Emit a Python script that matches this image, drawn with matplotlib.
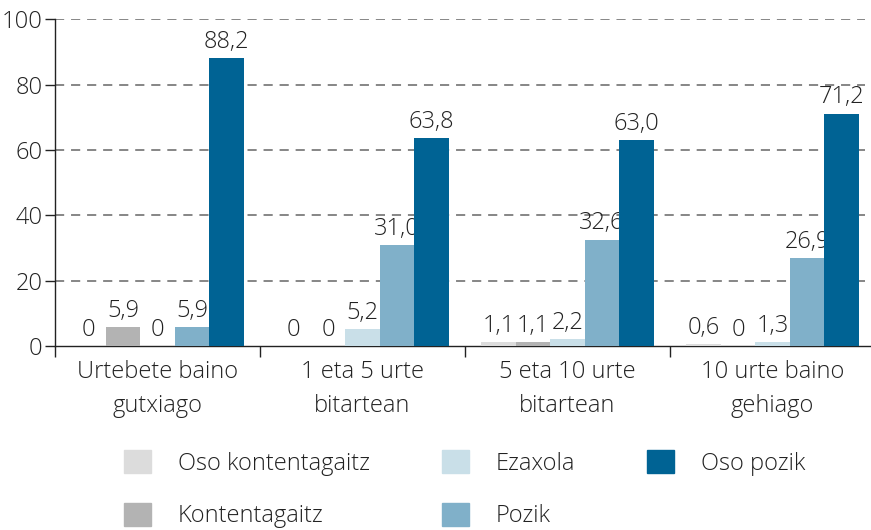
import matplotlib.pyplot as plt
import matplotlib.patches as mpatches
import numpy as np

plt.rcParams['font.family'] = ['Open Sans', 'DejaVu Sans']
plt.rcParams['font.weight'] = 'light'

groups = ["Urtebete baino\ngutxiago", "1 eta 5 urte\nbitartean",
          "5 eta 10 urte\nbitartean", "10 urte baino\ngehiago"]
series = ["Oso kontentagaitz", "Kontentagaitz", "Ezaxola", "Pozik", "Oso pozik"]
colors = ["#dcdcdc", "#b3b3b3", "#c9dfe8", "#80b0c9", "#006394"]
values = [
    [0, 0, 1.1, 0.6],      # Oso kontentagaitz
    [5.9, 0, 1.1, 0],      # Kontentagaitz
    [0, 5.2, 2.2, 1.3],    # Ezaxola
    [5.9, 31.0, 32.6, 26.9],  # Pozik
    [88.2, 63.8, 63.0, 71.2],  # Oso pozik
]
yticks = [0, 20, 40, 60, 80, 100]

txt = "#222222"
fs = 17

fig = plt.figure(figsize=(8.71, 5.30), dpi=100)
ax = fig.add_axes([55/871, (530-346)/530, 816/871, (346-19.5)/530])

w = 0.168
x = np.arange(len(groups))
for i, s in enumerate(series):
    pos = x + (i - 2) * w
    ax.bar(pos, values[i], width=w, color=colors[i], label=s, zorder=3)
    for p, v in zip(pos, values[i]):
        lab = "0" if v == 0 else ("%.1f" % v).replace(".", ",")
        # labels sit behind the bars, like in the original
        ax.annotate(lab, (p, v), xytext=(0, 3), textcoords="offset points",
                    ha="center", va="bottom", fontsize=fs, color=txt, zorder=2)

ax.set_xlim(-0.5, -0.5 + 816/205)
ax.set_ylim(0, 100)

for y in yticks[1:]:
    ax.axhline(y, xmin=0, xmax=810/816, color="#666666", lw=1.1,
               linestyle=(0, (6, 4.5)), zorder=1)

ax.set_yticks(yticks)
ax.set_yticklabels([str(t) for t in yticks])
ax.set_xticks(x)
ax.set_xticklabels(groups, linespacing=1.55)
ax.set_xticks(np.arange(len(groups)) - 0.5, minor=True)
ax.tick_params(axis="x", which="major", length=0, pad=10, labelsize=fs, labelcolor=txt)
ax.tick_params(axis="x", which="minor", length=8, width=1, color="#222222", direction="out")
ax.tick_params(axis="y", length=7, width=1, color="#222222", pad=2, labelsize=fs, labelcolor=txt)

for sp in ["top", "right"]:
    ax.spines[sp].set_visible(False)
ax.spines["left"].set_color("#222222")
ax.spines["bottom"].set_color("#222222")
ax.spines["left"].set_linewidth(1)
ax.spines["bottom"].set_linewidth(1)

handles = [mpatches.Patch(color=c, label=s) for c, s in zip(colors, series)]
leg = fig.legend(handles=handles, ncol=3, loc="upper left",
                 bbox_to_anchor=(124/871, 1 - 450/530), frameon=False,
                 fontsize=fs, handlelength=1.14, handleheight=1.14,
                 handletextpad=1.14, columnspacing=3.05, labelspacing=1.15,
                 borderpad=0, borderaxespad=0)
for t in leg.get_texts():
    t.set_color(txt)

fig.savefig("out.png", dpi=100)
